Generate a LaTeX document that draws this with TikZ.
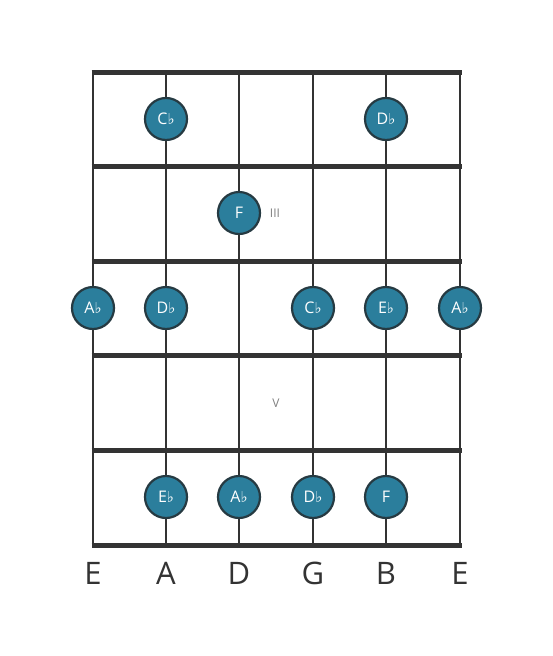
\documentclass[tikz,border=0pt]{standalone}
\usepackage{fontspec}
\setmainfont{Open Sans}
\newfontfamily\symfont{DejaVu Sans}
\usetikzlibrary{positioning}

\definecolor{dotfill}{HTML}{2B7E9C}
\definecolor{dotline}{HTML}{263A42}
\definecolor{gridline}{HTML}{333333}
\newcommand{\flt}{{\symfont\fontsize{15}{15}\selectfont\raisebox{0.3pt}{♭}}}

\tikzset{
  note/.style={circle, draw=dotline, line width=2.2pt, fill=dotfill, minimum size=42pt,
    inner sep=0pt, text=white, font=\fontsize{16}{16}\selectfont},
  fretnum/.style={text=gray, font=\fontsize{12}{12}\selectfont},
  strname/.style={text=gridline, font=\fontsize{31}{31}\selectfont}
}

\begin{document}
\begin{tikzpicture}[x=1pt, y=-1pt]
  \useasboundingbox (0,0) rectangle (553,656);
  % strings
  \draw[gridline, line width=2.8pt] (93,72) -- (93,545);
  \draw[gridline, line width=2.8pt] (166,72) -- (166,545);
  \draw[gridline, line width=2.8pt] (239,72) -- (239,545);
  \draw[gridline, line width=2.8pt] (313,72) -- (313,545);
  \draw[gridline, line width=2.8pt] (386,72) -- (386,545);
  \draw[gridline, line width=2.8pt] (460,72) -- (460,545);
  % frets
  \draw[gridline, line width=5pt] (91.5,72) -- (461.5,72);
  \draw[gridline, line width=5pt] (91.5,166.5) -- (461.5,166.5);
  \draw[gridline, line width=5pt] (91.5,261) -- (461.5,261);
  \draw[gridline, line width=5pt] (91.5,355.5) -- (461.5,355.5);
  \draw[gridline, line width=5pt] (91.5,450) -- (461.5,450);
  \draw[gridline, line width=5pt] (91.5,545) -- (461.5,545);
  % fret numbers
  \node[fretnum] (three) at (275,213) {III};
  \node[fretnum] (five) at (276,403) {V};
  % notes
  \node[note] (cflatA) at (166,119) {C\flt};
  \node[note] (dflatB) at (386,119) {D\flt};
  \node[note] (fD) at (239,213) {F};
  \node[note] (aflatlow) at (93,308) {A\flt};
  \node[note] (dflatA) at (166,308) {D\flt};
  \node[note] (cflatG) at (313,308) {C\flt};
  \node[note] (eflatB) at (386,308) {E\flt};
  \node[note] (aflathigh) at (460,308) {A\flt};
  \node[note] (eflatA) at (166,497) {E\flt};
  \node[note] (aflatD) at (239,497) {A\flt};
  \node[note] (dflatG) at (313,497) {D\flt};
  \node[note] (fB) at (386,497) {F};
  % string names
  \node[strname] (lowE) at (93,573) {E};
  \node[strname] (strA) at (166,573) {A};
  \node[strname] (strD) at (239,573) {D};
  \node[strname] (strG) at (313,573) {G};
  \node[strname] (strB) at (386,573) {B};
  \node[strname] (highE) at (460,573) {E};
\end{tikzpicture}
\end{document}
